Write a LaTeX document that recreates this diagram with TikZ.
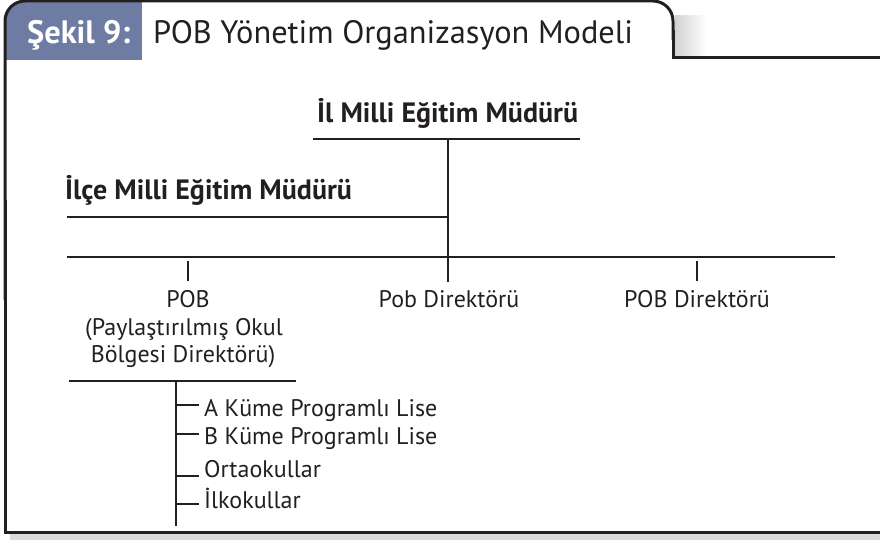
\documentclass[tikz,border=0pt]{standalone}
\usepackage{fontspec}
\setmainfont[Ligatures=NoCommon]{PT Sans}
\definecolor{ink}{HTML}{231F20}
\definecolor{tabblue}{RGB}{110,123,163}
\begin{document}
\begin{tikzpicture}[x=1pt,y=-1pt,
  frame/.style={ink, line width=3pt},
  link/.style={ink, line width=2.4pt},
  lbl/.style={inner sep=0pt, anchor=base, text=ink, font=\fontsize{24}{27}\selectfont},
  leaf/.style={lbl, anchor=base west},
  head/.style={inner sep=0pt, anchor=base west, text=ink, font=\bfseries\fontsize{28}{30}\selectfont},
  title/.style={inner sep=0pt, anchor=base west, font=\fontsize{32.4}{34}\selectfont}]
\useasboundingbox (0,0) rectangle (880,540);
% shadows
\fill[gray!30] (10,534) rectangle (880,540);
\shade[left color=gray!35, right color=white] (675,16) rectangle (706,56);
% blue tab
\begin{scope}
  \clip[rounded corners=20pt] (5,100) -- (5,1) -- (400,1) -- (400,100) -- cycle;
  \fill[tabblue] (5,1) rectangle (142,60);
\end{scope}
% frame
\draw[frame, rounded corners=20pt] (5,300) -- (5,1) -- (673,1) -- (673,40);
\draw[frame] (673,30) -- (673,58) -- (882,58);
\draw[frame] (5,200) -- (5,532) -- (882,532);
% title
\node[title, text=white, font=\bfseries\fontsize{32.4}{34}\selectfont] (sekil) at (27,44) {Şekil 9:};
\node[title, text=ink] (titletext) at (153,44) {POB Yönetim Organizasyon Modeli};
% headers
\node[head] (il) at (317,123) {İl Milli Eğitim Müdürü};
\node[head] (ilce) at (65,200) {İlçe Milli Eğitim Müdürü};
\coordinate (ilL) at (313,139);
\coordinate (ilR) at (580,139);
\coordinate (ilM) at (448,139);
\coordinate (ilceL) at (67,217);
\coordinate (ilceR) at (448,217);
\coordinate (mainL) at (67,257);
\coordinate (mainR) at (835,257);
\coordinate (midB) at (448,282);
\draw[link] (ilL) -- (ilR);
\draw[link] (ilM) -- (midB);
\draw[link] (ilceL) -- (ilceR);
\draw[link] (mainL) -- (mainR);
% second level
\node[lbl] (pob) at (188,307) {POB};
\node[lbl] (pobb) at (184,335) {(Paylaştırılmış Okul};
\node[lbl] (pobc) at (183,362) {Bölgesi Direktörü)};
\node[lbl] (pob2) at (449,307) {Pob Direktörü};
\node[lbl] (pob3) at (697,307) {POB Direktörü};
\coordinate (t1a) at (188,261);
\coordinate (t1b) at (188,281);
\coordinate (t3a) at (697,261);
\coordinate (t3b) at (697,281);
\draw[link] (t1a) -- (t1b);
\draw[link] (t3a) -- (t3b);
% third level
\coordinate (subL) at (69,381);
\coordinate (subR) at (296,381);
\coordinate (vtop) at (176,381);
\coordinate (vbot) at (176,526);
\draw[link] (subL) -- (subR);
\draw[link] (vtop) -- (vbot);
\node[leaf] (a) at (204,416) {A Küme Programlı Lise};
\node[leaf] (b) at (204,444) {B Küme Programlı Lise};
\node[leaf] (o) at (204,477) {Ortaokullar};
\node[leaf] (ilk) at (204,508) {İlkokullar};
\draw[link] (176,405) -- (199,405);
\draw[link] (176,434) -- (199,434);
\draw[link] (176,476) -- (199,476);
\draw[link] (176,504) -- (199,504);
\end{tikzpicture}
\end{document}
